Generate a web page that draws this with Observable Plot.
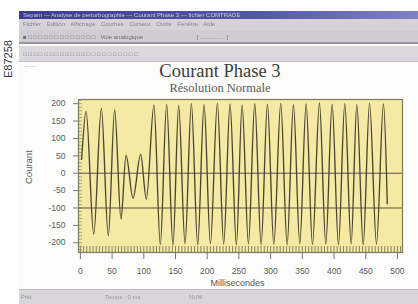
<!DOCTYPE html>
<html>
<head>
<meta charset="utf-8">
<script src="https://cdn.jsdelivr.net/npm/d3@7"></script>
<script src="https://cdn.jsdelivr.net/npm/@observablehq/plot@0.6"></script>
<style>
  html, body { margin: 0; padding: 0; background: #ffffff; }
  #page { position: relative; width: 418px; height: 304px; overflow: hidden; background: #ffffff; font-family: "Liberation Sans", Arial, sans-serif; }
  #code { position: absolute; left: -22px; top: 53px; width: 60px; text-align: center; font-size: 11px; color: #333; transform: rotate(-90deg); }
  #win { position: absolute; left: 19px; top: 11px; width: 399px; height: 293px; background: #fcfcfa; }
  .bar { position: absolute; left: 0; width: 399px; overflow: hidden; white-space: nowrap; filter: blur(0.4px); }
  #tb { top: 0; height: 8px; background: linear-gradient(to right, #3a3d90, #5357aa 60%, #7d82c4); font-size: 6px; line-height: 8px; color: #c9cbe8; padding-left: 4px; box-sizing: border-box; }
  #mb { top: 8px; height: 11px; background: #d6d3d8; font-size: 6px; line-height: 11px; color: #858190; padding-left: 4px; box-sizing: border-box; word-spacing: 4px; }
  #t1 { top: 19px; height: 14px; background: #cfccd3; font-size: 6px; line-height: 14px; color: #6f6b7a; padding-left: 4px; box-sizing: border-box; border-bottom: 2px solid #98949e; }
  #t2 { top: 35px; height: 16px; background: #dad7dd; font-size: 6px; line-height: 16px; color: #7d7986; padding-left: 4px; box-sizing: border-box; border-bottom: 1px solid #c5c2c9; }
  #sb { top: 278px; height: 15px; background: #d9d6da; font-size: 6px; line-height: 15px; color: #9a96a0; border-top: 1px solid #c2bfc4; }
  #title { position: absolute; left: 110px; width: 220px; top: 61px; text-align: center; font-family: "Liberation Serif", "DejaVu Serif", serif; font-size: 18.5px; color: #3c3c3c; }
  #subtitle { position: absolute; left: 110px; width: 220px; top: 81px; text-align: center; font-family: "Liberation Serif", "DejaVu Serif", serif; font-size: 12.5px; color: #5a5a5a; }
  #chart { position: absolute; left: 19px; top: 62px; }
  #small { position: absolute; left: 24px; top: 63px; font-size: 5px; color: #aaa; }
</style>
</head>
<body>
<div id="page">
  <div id="code">E87258</div>
  <div id="win">
    <div class="bar" id="tb">Sepam — Analyse de perturbographie — Courant Phase 3 — fichier COMTRADE</div>
    <div class="bar" id="mb">Fichier Edition Affichage Courbes Curseur Outils Fenêtre Aide</div>
    <div class="bar" id="t1">&#9632; &#9633; &#9633; &#9633; &#9633; &#9633; &#9633; &#9633; &#9633; &#9633; &#9633; &#9633; &#9633; &#9633; &nbsp; Voie analogique &nbsp;&nbsp;&nbsp;&nbsp;&nbsp;&nbsp;&nbsp;&nbsp;&nbsp;&nbsp;&nbsp;&nbsp;&nbsp;&nbsp;&nbsp;&nbsp;&nbsp;&nbsp;&nbsp;&nbsp;&nbsp;&nbsp;&nbsp;&nbsp;&nbsp;&nbsp;&nbsp;&nbsp;&nbsp;&nbsp; [ ............... ]</div>
    <div class="bar" id="t2">&#9633; &#9633; &#9633; &#9633; &#9633; &#9633; &#9633; &#9633; &#9633; &#9633; &#9633; &#9633; &#9633; &#9633; &#9633; &#9633; &#9633; &#9633; &#9633; &#9633; &#9633; &#9633;</div>
    <div class="bar" id="sb">&nbsp;Prêt &nbsp;&nbsp;&nbsp;&nbsp;&nbsp;&nbsp;&nbsp;&nbsp;&nbsp;&nbsp;&nbsp;&nbsp;&nbsp;&nbsp;&nbsp;&nbsp;&nbsp;&nbsp;&nbsp;&nbsp;&nbsp;&nbsp;&nbsp;&nbsp;&nbsp;&nbsp;&nbsp;&nbsp;&nbsp;&nbsp;&nbsp;&nbsp;&nbsp;&nbsp;&nbsp;&nbsp;&nbsp;&nbsp;&nbsp;&nbsp;&nbsp;&nbsp; Temps : 0 ms &nbsp;&nbsp;&nbsp;&nbsp;&nbsp;&nbsp;&nbsp;&nbsp;&nbsp;&nbsp;&nbsp;&nbsp;&nbsp;&nbsp;&nbsp;&nbsp;&nbsp;&nbsp;&nbsp;&nbsp;&nbsp;&nbsp;&nbsp;&nbsp;&nbsp;&nbsp;&nbsp; NUM</div>
  </div>
  <div id="small">— —</div>
  <div id="title">Courant Phase 3</div>
  <div id="subtitle">Résolution Normale</div>
  <div id="chart"></div>
</div>
<script>
const times = [2, 9, 21, 33, 44, 54, 64, 72, 83, 95, 104,
  116, 126, 136, 146, 155, 165, 175, 185, 195, 205,
  216, 226, 236, 246, 255, 265, 275, 285, 295, 305,
  316, 326, 336, 346, 356, 366, 377, 387, 397, 407,
  417, 427, 436, 446, 456, 467, 478, 484];
const values = [40, 178, -176, 186, -180, 182, -132, 52, -72, 54, -74,
  196, -205, 198, -207, 194, -203, 200, -206, 197, -202,
  201, -204, 199, -206, 196, -203, 200, -205, 198, -204,
  201, -206, 197, -203, 199, -205, 202, -204, 198, -206,
  200, -203, 197, -205, 201, -204, 199, -88];
const xTicks = [0, 50, 100, 150, 200, 250, 300, 350, 400, 450, 500];
const yTicks = [-200, -150, -100, -50, 0, 50, 100, 150, 200];
const gridLevels = [0, -100];
const xMinor = d3.range(0, 510, 5);
const yMinor = d3.range(-220, 211, 10);

const data = times.map((t, i) => ({t, v: values[i]}));

const W = 399, H = 228, mL = 59, mR = 16, mT = 37, mB = 38;
const innerW = W - mL - mR, innerH = H - mT - mB;

const chart = Plot.plot({
  width: W, height: H,
  marginLeft: mL, marginRight: mR, marginTop: mT, marginBottom: mB,
  style: {background: "transparent", fontFamily: "Liberation Sans, Arial, sans-serif", fontSize: "8.5px", color: "#5a5a5a"},
  x: {domain: [-3, 508]},
  y: {domain: [-228, 212]},
  marks: [
    Plot.frame({fill: "#f4eaa4"}),
    Plot.ruleX(xMinor, {x: d => d, insetTop: innerH - 6, stroke: "#6d6950", strokeWidth: 0.8}),
    Plot.ruleY(yMinor, {y: d => d, insetRight: innerW - 4, stroke: "#8a8668", strokeWidth: 0.7}),
    Plot.ruleY(gridLevels, {y: d => d, stroke: "#5a5640", strokeWidth: 1}),
    Plot.line(data, {x: "t", y: "v", curve: "monotone-x", stroke: "#4a4634", strokeWidth: 1.35}),
    Plot.frame({stroke: "#7e7a5e", strokeWidth: 1.2}),
    Plot.axisX({ticks: xTicks, tickSize: 7, tickPadding: 8, stroke: "#777", label: null, tickFormat: d => `${d}`}),
    Plot.axisY({ticks: yTicks, tickSize: 5, tickPadding: 8, stroke: "#777", label: null, tickFormat: d => `${d}`}),
    Plot.text(["Millisecondes"], {frameAnchor: "bottom", dy: 33, dx: -3, fontSize: 9, fill: "#5a5a5a"}),
    Plot.text(["Courant"], {frameAnchor: "left", dx: -50, dy: 8, rotate: -90, fontSize: 9.5, fill: "#5a5a5a"})
  ]
});
document.getElementById("chart").appendChild(chart);
</script>
</body>
</html>
